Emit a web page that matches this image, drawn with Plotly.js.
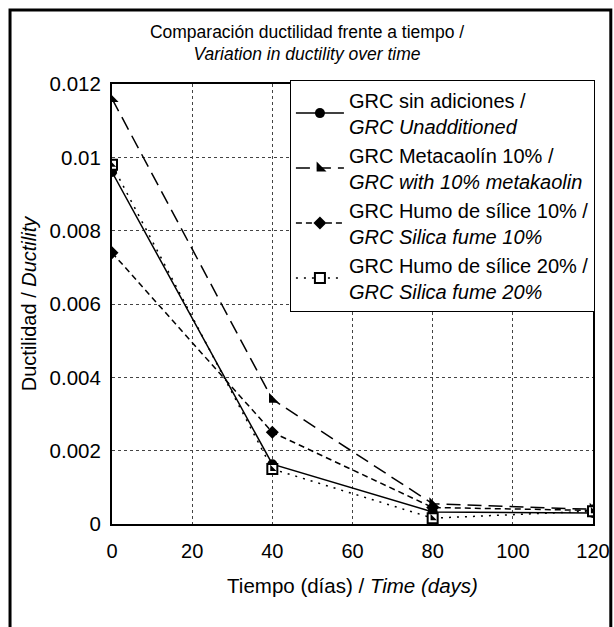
<!DOCTYPE html>
<html>
<head>
<meta charset="utf-8">
<script src="https://cdn.plot.ly/plotly-3.0.1.min.js"></script>
<style>
html,body{margin:0;padding:0;background:#fff;}
#chart{width:614px;height:627px;}
</style>
</head>
<body>
<div id="chart"></div>
<script>
// Data
const days = [0, 40, 80, 120];
const sinAdiciones = [0.0096, 0.00163, 0.00033, 0.0003];
const metacaolin10 = [0.0116, 0.0034, 0.00055, 0.0004];
const humo10 = [0.0074, 0.0025, 0.00045, 0.00037];
const humo20 = [0.0098, 0.0015, 0.00016, 0.00035];

const names = [
  'GRC sin adiciones /<br><i>GRC Unadditioned</i>',
  'GRC Metacaolín 10% /<br><i>GRC with 10% metakaolin</i>',
  'GRC Humo de sílice 10% /<br><i>GRC Silica fume 10%</i>',
  'GRC Humo de sílice 20% /<br><i>GRC Silica fume 20%</i>'
];
const xTicks = [0, 20, 40, 60, 80, 100, 120];
const yTicks = [0, 0.002, 0.004, 0.006, 0.008, 0.01, 0.012];
const yTickText = ['0', '0.002', '0.004', '0.006', '0.008', '0.01', '0.012'];

const FONT = 'Arial, "Liberation Sans", sans-serif';

const traces = [
  {x: days, y: sinAdiciones, name: names[0], mode: 'lines+markers',
   line: {color: '#000', width: 1.5, dash: 'solid'},
   marker: {symbol: 'circle', size: 10, color: '#000'}},
  {x: days, y: metacaolin10, name: names[1], mode: 'lines+markers',
   line: {color: '#000', width: 1.5, dash: '14px,7px'},
   marker: {symbol: 'triangle-sw', size: 11, color: '#000'}},
  {x: days, y: humo10, name: names[2], mode: 'lines+markers',
   line: {color: '#000', width: 1.5, dash: '6px,4px'},
   marker: {symbol: 'diamond', size: 10, color: '#000'}},
  {x: days, y: humo20, name: names[3], mode: 'lines+markers',
   line: {color: '#000', width: 1.5, dash: '2px,6px'},
   marker: {symbol: 'square', size: 10, color: '#fff', line: {color: '#000', width: 2}}},
  {x: days, y: humo20, name: 'half', mode: 'markers', showlegend: false, hoverinfo: 'skip',
   marker: {symbol: 'triangle-sw', size: 7, color: '#000'}}
];

const layout = {
  width: 614, height: 627,
  margin: {l: 112, r: 21, t: 84, b: 103},
  paper_bgcolor: '#fff', plot_bgcolor: '#fff',
  font: {family: FONT, size: 20, color: '#000'},
  title: {
    text: 'Comparación ductilidad frente a tiempo /<br><i>Variation in ductility over time</i>',
    font: {family: FONT, size: 17.5, color: '#000'},
    x: 0.5, xanchor: 'center', xref: 'container',
    y: 0.94, yanchor: 'top', yref: 'container'
  },
  xaxis: {
    range: [0, 120], tickvals: xTicks, ticktext: xTicks.map(String),
    showgrid: true, gridcolor: '#444', griddash: 'dot', gridwidth: 1,
    showline: true, linecolor: '#000', linewidth: 2, mirror: true,
    ticks: '', zeroline: false, tickfont: {size: 20}, ticklabelstandoff: 8,
    title: {text: 'Tiempo (días) / <i>Time (days)</i>', font: {size: 20.5}, standoff: 18}
  },
  yaxis: {
    range: [0, 0.012], tickvals: yTicks, ticktext: yTickText,
    showgrid: true, gridcolor: '#444', griddash: 'dot', gridwidth: 1,
    showline: true, linecolor: '#000', linewidth: 2, mirror: true,
    ticks: '', zeroline: false, tickfont: {size: 20.5}, ticklabelstandoff: 5,
    title: {text: 'Ductilidad / <i>Ductility</i>', font: {size: 20}, standoff: 8}
  },
  legend: {
    x: 1.004, y: 1.01, xanchor: 'right', yanchor: 'top',
    bgcolor: '#fff', bordercolor: '#000', borderwidth: 1,
    font: {family: FONT, size: 20, color: '#000'},
    tracegroupgap: 0, itemwidth: 48
  },
  shapes: [
    {type: 'rect', xref: 'paper', yref: 'paper',
     x0: -0.212, x1: 1.037, y0: -0.27, y1: 1.168,
     line: {color: '#000', width: 3}, fillcolor: 'rgba(0,0,0,0)', layer: 'below'}
  ],
  showlegend: true
};

Plotly.newPlot('chart', traces, layout, {displayModeBar: false, staticPlot: true});
</script>
</body>
</html>
